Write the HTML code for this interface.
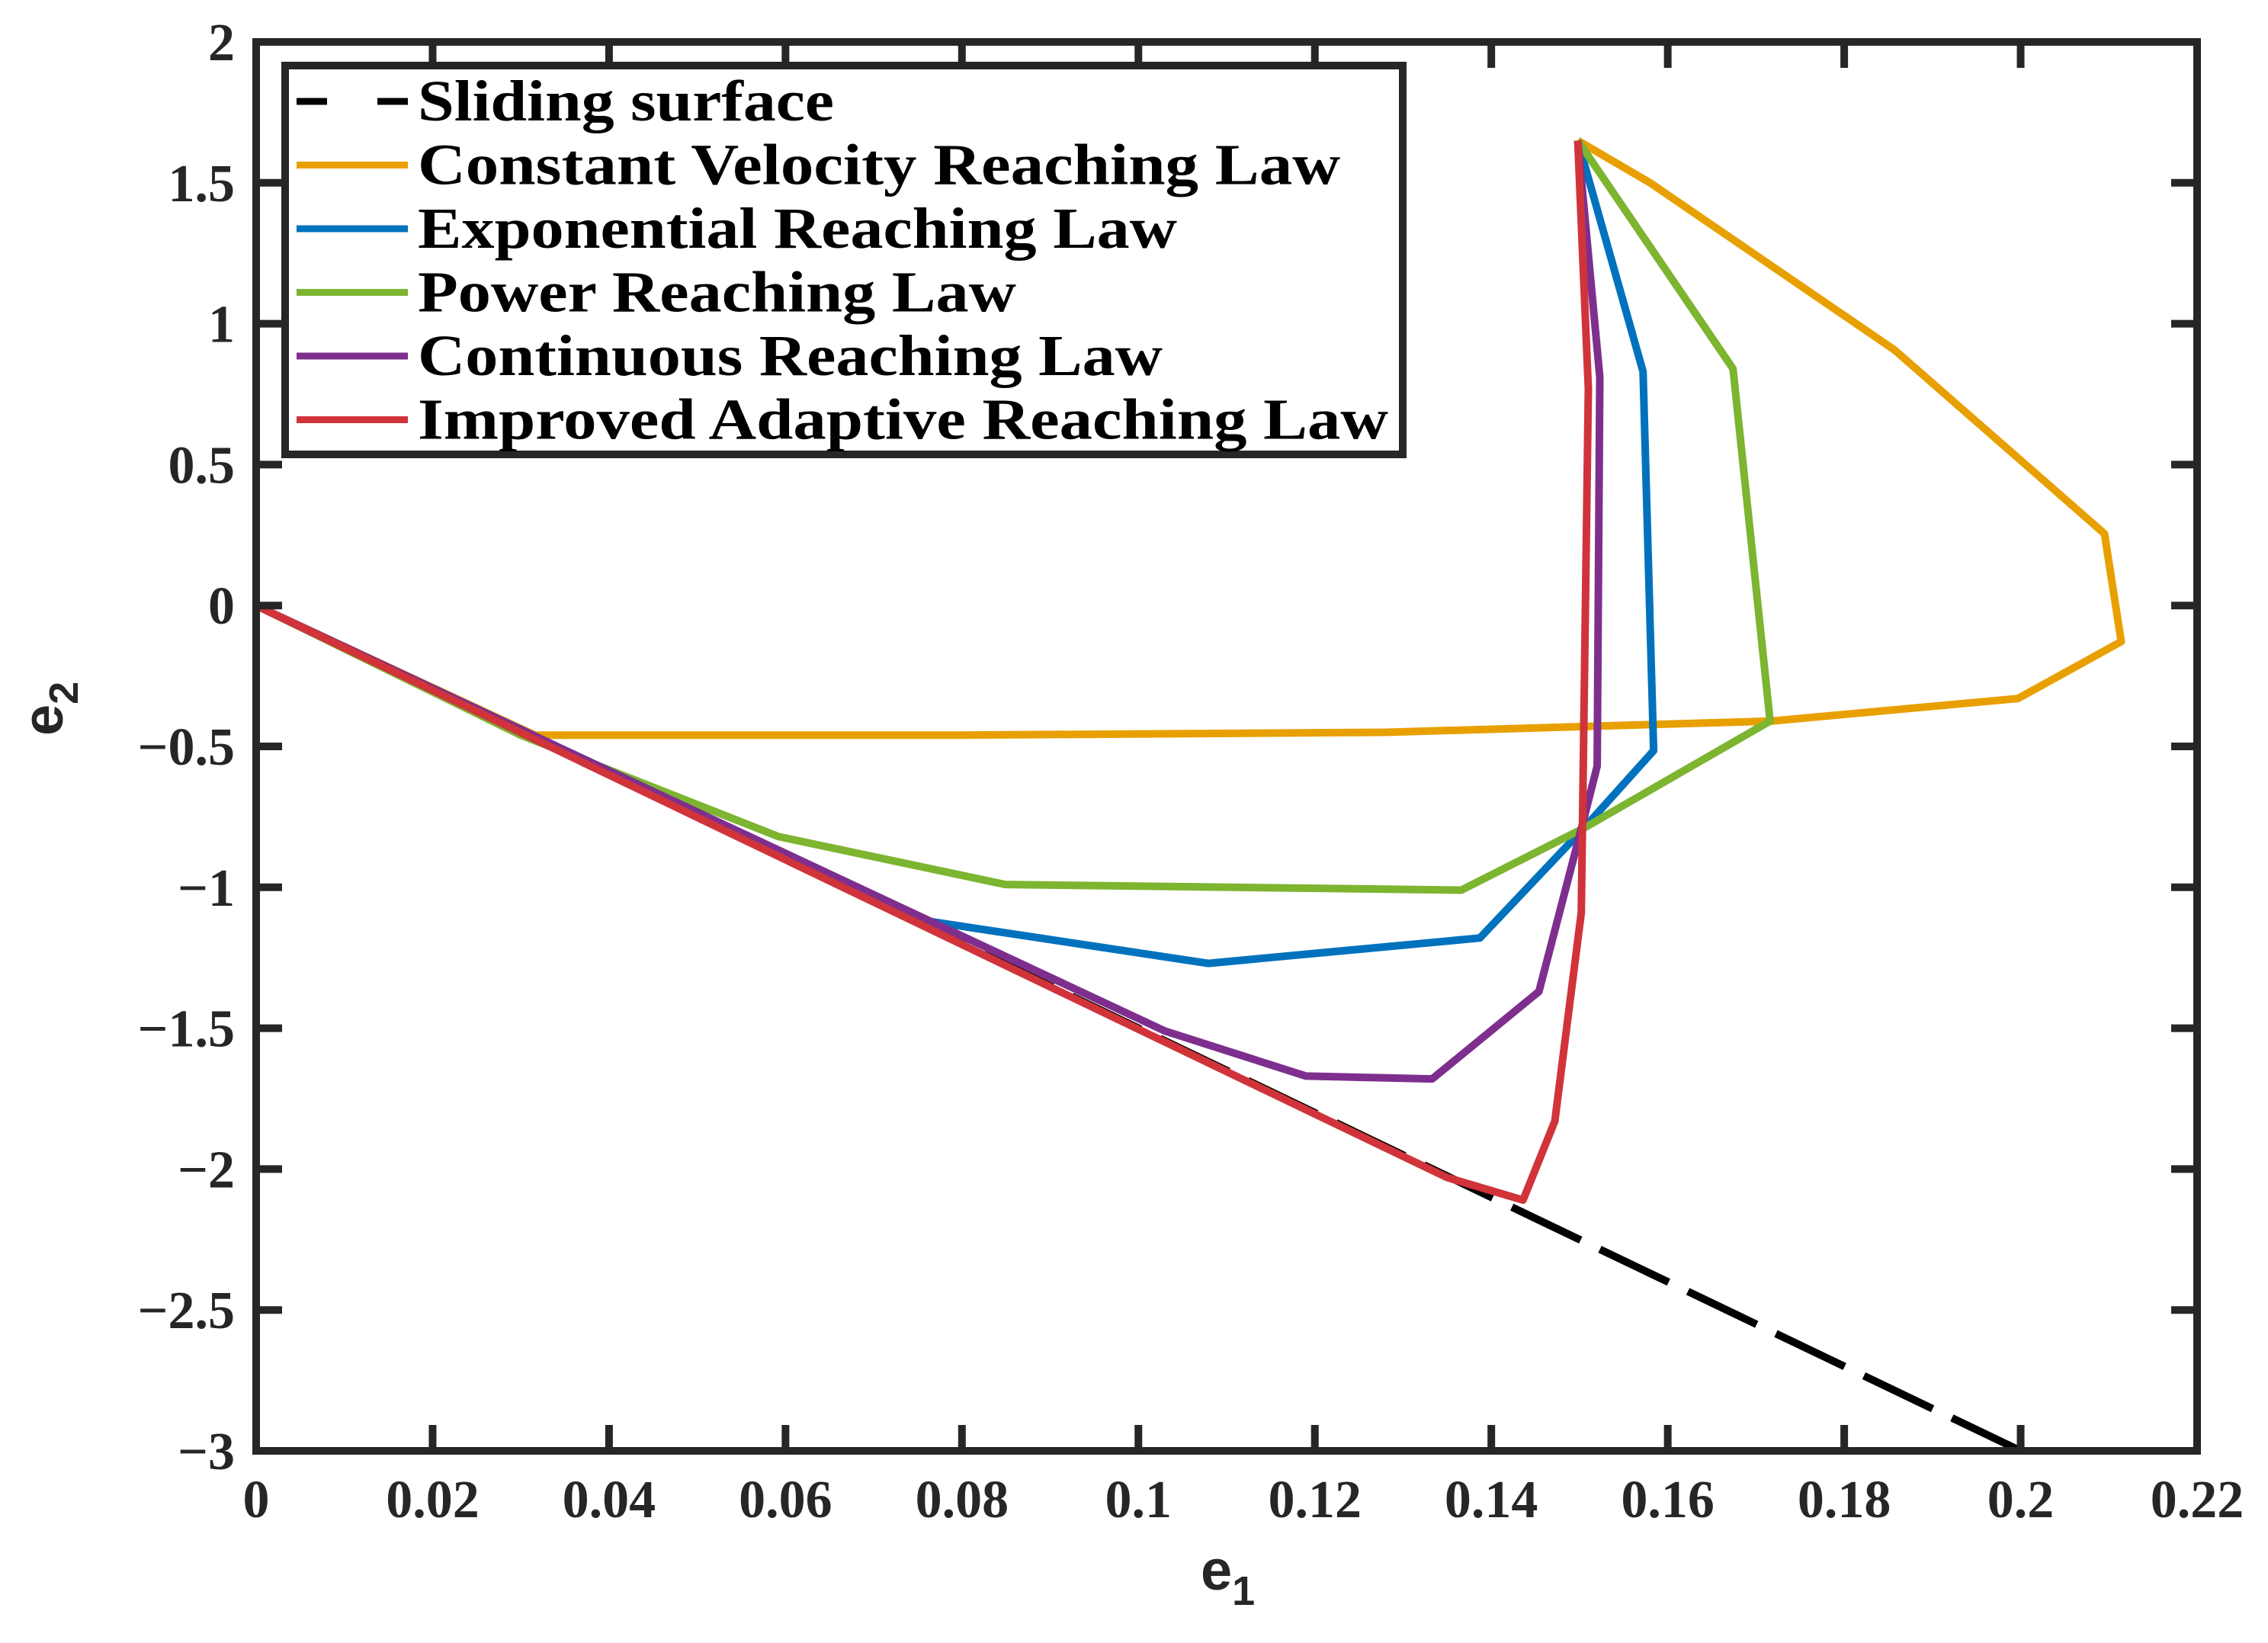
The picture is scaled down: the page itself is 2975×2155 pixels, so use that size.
<!DOCTYPE html>
<html><head><meta charset="utf-8"><style>
html,body{margin:0;padding:0;background:#fff;}
svg{display:block;}
.tk{font-family:"Liberation Serif",serif;font-weight:bold;font-size:70px;fill:#262626;}
.lg{font-family:"Liberation Serif",serif;font-weight:bold;font-size:76px;fill:#000;}
.al{font-family:"Liberation Sans",sans-serif;font-weight:bold;font-size:74px;fill:#262626;}
</style></head><body>
<svg id="chart" width="2975" height="2155" viewBox="0 0 2975 2155" xmlns="http://www.w3.org/2000/svg">
<g id="series"></g>
<g id="axes"></g>
<g id="legend"></g>
</svg>
<script>
const xTicks=[0,0.02,0.04,0.06,0.08,0.1,0.12,0.14,0.16,0.18,0.2,0.22];
const xTickLabels=["0","0.02","0.04","0.06","0.08","0.1","0.12","0.14","0.16","0.18","0.2","0.22"];
const yTicks=[2,1.5,1,0.5,0,-0.5,-1,-1.5,-2,-2.5,-3];
const yTickLabels=["2","1.5","1","0.5","0","\u22120.5","\u22121","\u22121.5","\u22122","\u22122.5","\u22123"];
const seriesNames=["Sliding surface","Constant Velocity Reaching Law","Exponential Reaching Law","Power Reaching Law","Continuous Reaching Law","Improved Adaptive Reaching Law"];
const slidingX=[0.2,0];
const slidingY=[-3,0];
const constX=[0,0.0316,0.080,0.128,0.1718,0.1997,0.2114,0.2095,0.1857,0.158,0.1498];
const constY=[0,-0.46,-0.46,-0.45,-0.41,-0.33,-0.128,0.255,0.907,1.50,1.65];
const expX=[0,0.074,0.1079,0.1387,0.1505,0.1584,0.1572,0.1498];
const expY=[0,-1.11,-1.27,-1.18,-0.79,-0.515,0.83,1.65];
const powX=[0,0.03,0.0592,0.0849,0.1366,0.1505,0.1716,0.1674,0.1498];
const powY=[0,-0.46,-0.82,-0.99,-1.01,-0.79,-0.41,0.84,1.65];
const contX=[0,0.103,0.119,0.1333,0.1454,0.1503,0.152,0.1523,0.1498];
const contY=[0,-1.51,-1.67,-1.68,-1.37,-0.78,-0.57,0.81,1.65];
const adaptX=[0,0.135,0.1436,0.1472,0.1502,0.151,0.1498];
const adaptY=[0,-2.03,-2.11,-1.83,-1.09,0.77,1.65];
const colors=["#000000","#E8A000","#0072BD","#7DB430","#7E2F8E","#D0343A"];

const L=336,R=2882,T=55,B=1903;
const X=v=>L+(v-0)/(0.22)*(R-L);
const Y=v=>T+(2-v)/5*(B-T);
const NS="http://www.w3.org/2000/svg";
function mk(tag,parent){const e=document.createElementNS(NS,tag);parent.appendChild(e);return e;}

const series=document.getElementById('series');
const datasets=[[slidingX,slidingY],[constX,constY],[expX,expY],[powX,powY],[contX,contY],[adaptX,adaptY]];
const keys=["sliding-surface","constant-velocity","exponential","power","continuous","improved-adaptive"];
datasets.forEach((d,i)=>{
  const p=mk('polyline',series);
  
  
  p.setAttribute('points',d[0].map((x,j)=>X(x)+','+Y(d[1][j])).join(' '));
  p.setAttribute('fill','none');
  p.setAttribute('stroke',colors[i]);
  p.setAttribute('stroke-width',10);
  p.setAttribute('stroke-linejoin','round');
  if(i==0)p.setAttribute('stroke-dasharray','100 28');
});

const axes=document.getElementById('axes');
const frame=mk('rect',axes);


frame.setAttribute('x',L);frame.setAttribute('y',T);frame.setAttribute('width',R-L);frame.setAttribute('height',B-T);
frame.setAttribute('fill','none');frame.setAttribute('stroke','#262626');frame.setAttribute('stroke-width',10);
xTicks.forEach((v,i)=>{
  [[B,B-34],[T,T+34]].forEach(([a,b])=>{
    const l=mk('line',axes);
    
    
    l.setAttribute('x1',X(v));l.setAttribute('x2',X(v));l.setAttribute('y1',a);l.setAttribute('y2',b);
    l.setAttribute('stroke','#262626');l.setAttribute('stroke-width',10);
  });
  const t=mk('text',axes);
  
  
  t.setAttribute('class','tk');t.setAttribute('x',X(v));t.setAttribute('y',1990);t.setAttribute('text-anchor','middle');
  t.textContent=xTickLabels[i];
});
yTicks.forEach((v,i)=>{
  [[L,L+34],[R,R-34]].forEach(([a,b])=>{
    const l=mk('line',axes);
    
    
    l.setAttribute('x1',a);l.setAttribute('x2',b);l.setAttribute('y1',Y(v));l.setAttribute('y2',Y(v));
    l.setAttribute('stroke','#262626');l.setAttribute('stroke-width',10);
  });
  const t=mk('text',axes);
  
  
  t.setAttribute('class','tk');t.setAttribute('x',308);t.setAttribute('y',Y(v)+24);t.setAttribute('text-anchor','end');
  t.textContent=yTickLabels[i];
});
const xl=mk('text',axes);


xl.setAttribute('class','al');xl.setAttribute('x',1575);xl.setAttribute('y',2085);
xl.innerHTML='e<tspan font-size="54" dy="20">1</tspan>';
const yl=mk('text',axes);


yl.setAttribute('class','al');yl.setAttribute('transform','translate(82,965) rotate(-90)');
yl.innerHTML='e<tspan font-size="54" dy="20">2</tspan>';

const lg=document.getElementById('legend');
const box=mk('rect',lg);


box.setAttribute('x',374);box.setAttribute('y',86);box.setAttribute('width',1466);box.setAttribute('height',510);
box.setAttribute('fill','#fff');box.setAttribute('stroke','#262626');box.setAttribute('stroke-width',10);
const tlen=[546,1210,996,785,977,1273];
seriesNames.forEach((n,i)=>{
  const cy=133+i*83.5;
  const l=mk('line',lg);
  
  
  l.setAttribute('x1',389);l.setAttribute('x2',535);l.setAttribute('y1',cy);l.setAttribute('y2',cy);
  l.setAttribute('stroke',colors[i]);l.setAttribute('stroke-width',9);
  if(i==0)l.setAttribute('stroke-dasharray','40 66');
  const t=mk('text',lg);
  
  
  t.setAttribute('class','lg');t.setAttribute('x',548);t.setAttribute('y',cy+25);
  t.setAttribute('textLength',tlen[i]);
  t.setAttribute('lengthAdjust','spacingAndGlyphs');
  t.textContent=n;
});
</script>
</body></html>
